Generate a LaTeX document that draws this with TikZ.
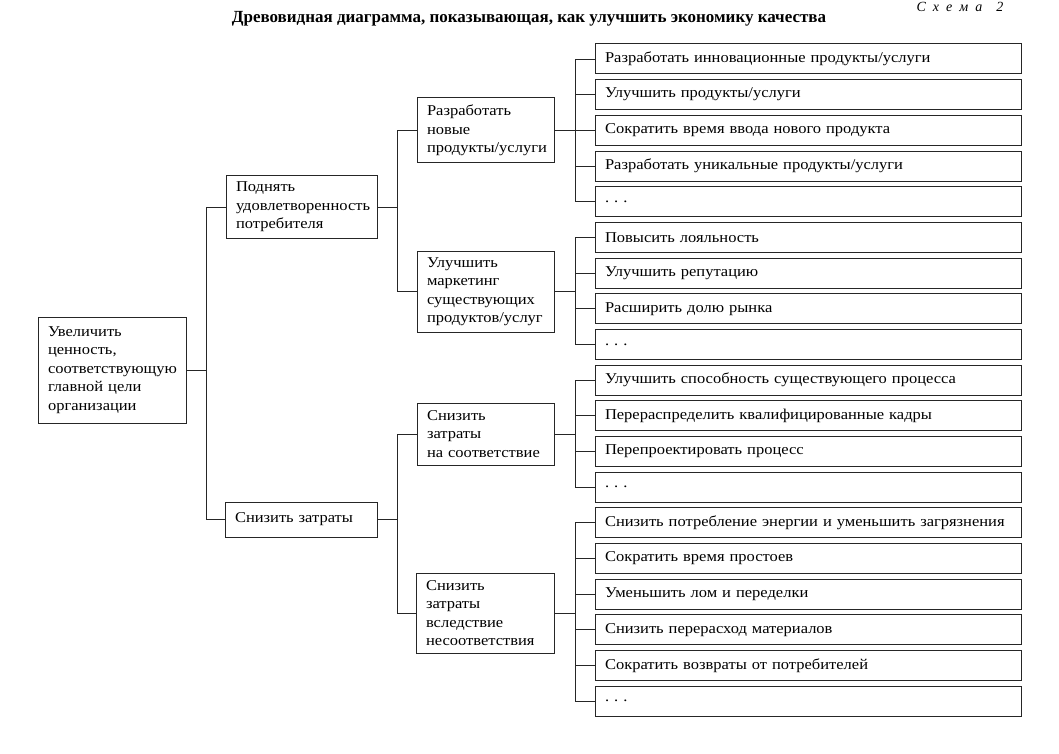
\documentclass[tikz,border=0pt]{standalone}
\usepackage{fontspec}
\setmainfont{Liberation Serif}[FakeStretch=1.1]
\newfontfamily\titlefont{Liberation Serif}
\begin{document}
\begin{tikzpicture}[x=1pt,y=-1pt,
  every node/.style={font=\fontsize{15}{18.5}\selectfont},
  box/.style={draw=black!85, line width=1pt, inner xsep=10pt, inner ysep=2pt, align=left, anchor=center},
  leaf/.style={box, minimum width=426pt, text width=406pt, minimum height=30pt},
  conn/.style={draw=black!85, line width=0.9pt}]
\useasboundingbox (0,0) rectangle (1059,754);
\node[font=\titlefont\fontsize{17}{20}\selectfont\bfseries] (title) at (529,19) {Древовидная диаграмма, показывающая, как улучшить экономику качества};
\node[font=\titlefont\fontsize{14}{16}\selectfont\itshape, anchor=base west] (schema) at (913,12) {С\,\,\,х\,\,\,е\,\,\,м\,\,\,а\,\,\,\,\,\,2};
% level 1
\node[box, minimum width=148pt, text width=128pt, minimum height=106pt] (root) at (112,370) {Увеличить\\ценность,\\соответствующую\\главной цели\\организации};
% level 2
\node[box, minimum width=151pt, text width=131pt, minimum height=62pt] (A) at (301.5,207) {Поднять\\удовлетворенность\\потребителя};
\node[box, minimum width=152pt, text width=132pt, minimum height=35pt] (B) at (301,519.5) {Снизить затраты};
% level 3
\node[box, minimum width=137pt, text width=117pt, minimum height=65pt] (A1) at (485.5,130.5) {Разработать\\новые\\продукты/услуги};
\node[box, minimum width=137pt, text width=117pt, minimum height=81pt] (A2) at (485.5,291.5) {Улучшить\\маркетинг\\существующих\\продуктов/услуг};
\node[box, minimum width=137pt, text width=117pt, minimum height=62pt] (B1) at (485.5,434) {Снизить\\затраты\\на соответствие};
\node[box, minimum width=138pt, text width=118pt, minimum height=80pt] (B2) at (485,613) {Снизить\\затраты\\вследствие\\несоответствия};
% leaves
\foreach \i/\t in {1/{Разработать инновационные продукты/услуги},
  2/{Улучшить продукты/услуги},
  3/{Сократить время ввода нового продукта},
  4/{Разработать уникальные продукты/услуги},
  5/{.\,\,.\,\,.},
  6/{Повысить лояльность},
  7/{Улучшить репутацию},
  8/{Расширить долю рынка},
  9/{.\,\,.\,\,.},
  10/{Улучшить способность существующего процесса},
  11/{Перераспределить квалифицированные кадры},
  12/{Перепроектировать процесс},
  13/{.\,\,.\,\,.},
  14/{Снизить потребление энергии и уменьшить загрязнения},
  15/{Сократить время простоев},
  16/{Уменьшить лом и переделки},
  17/{Снизить перерасход материалов},
  18/{Сократить возвраты от потребителей},
  19/{.\,\,.\,\,.}}
  \node[leaf] (L\i) at (808,{59+35.67*(\i-1)}) {\t};
% junctions
\coordinate (j0) at (206,370);
\coordinate (jA) at (397,207);
\coordinate (jB) at (397,519.5);
\coordinate (jA1) at (575,130.5);
\coordinate (jA2) at (575,291.5);
\coordinate (jB1) at (575,434);
\coordinate (jB2) at (575,613);
% connectors level 1-2
\draw[conn] (root.east) -- (j0);
\draw[conn] (A.west) -| (j0 |- B.west) -- (B.west);
% level 2-3
\draw[conn] (A.east) -- (jA);
\draw[conn] (A1.west) -| (jA |- A2.west) -- (A2.west);
\draw[conn] (B.east) -- (jB);
\draw[conn] (B1.west) -| (jB |- B2.west) -- (B2.west);
% level 3-leaves
\draw[conn] (A1.east) -- (jA1);
\draw[conn] (L1.west) -| (jA1 |- L5.west) -- (L5.west);
\foreach \i in {2,3,4} \draw[conn] (L\i.west) -- (jA1 |- L\i.west);
\draw[conn] (A2.east) -- (jA2);
\draw[conn] (L6.west) -| (jA2 |- L9.west) -- (L9.west);
\foreach \i in {7,8} \draw[conn] (L\i.west) -- (jA2 |- L\i.west);
\draw[conn] (B1.east) -- (jB1);
\draw[conn] (L10.west) -| (jB1 |- L13.west) -- (L13.west);
\foreach \i in {11,12} \draw[conn] (L\i.west) -- (jB1 |- L\i.west);
\draw[conn] (B2.east) -- (jB2);
\draw[conn] (L14.west) -| (jB2 |- L19.west) -- (L19.west);
\foreach \i in {15,16,17,18} \draw[conn] (L\i.west) -- (jB2 |- L\i.west);
\end{tikzpicture}
\end{document}
